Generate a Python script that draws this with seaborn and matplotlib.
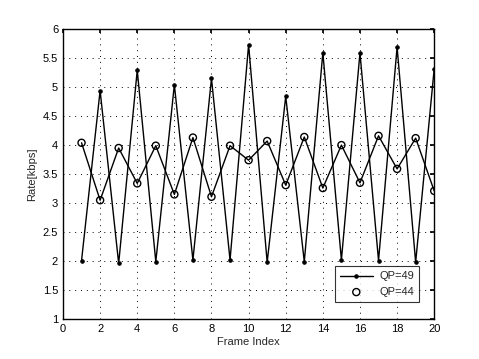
import numpy as np
import pandas as pd
import matplotlib
matplotlib.use("Agg")
import matplotlib.pyplot as plt
import seaborn as sns

# values
frames = list(range(1, 21))
rate_qp49 = [2.01, 4.94, 1.96, 5.29, 1.99, 5.04, 2.02, 5.15, 2.02, 5.73,
             1.98, 4.84, 1.99, 5.59, 2.02, 5.59, 2.01, 5.69, 1.98, 5.32]
rate_qp44 = [4.04, 3.05, 3.95, 3.34, 3.99, 3.15, 4.13, 3.11, 3.99, 3.74,
             4.07, 3.31, 4.14, 3.26, 4.00, 3.35, 4.16, 3.59, 4.12, 3.21]
x_ticks = list(range(0, 21, 2))
y_ticks = [1, 1.5, 2, 2.5, 3, 3.5, 4, 4.5, 5, 5.5, 6]

sns.set_theme(style="white")
plt.rcParams["font.family"] = ["Liberation Sans", "DejaVu Sans"]
plt.rcParams["xtick.direction"] = "in"
plt.rcParams["ytick.direction"] = "in"

df = pd.DataFrame({"frame": frames, "qp49": rate_qp49, "qp44": rate_qp44})

fig = plt.figure(figsize=(4.79, 3.59), dpi=100)
ax = fig.add_axes([0.1315, 0.111, 0.775, 0.808])

sns.lineplot(data=df, x="frame", y="qp49", ax=ax, color="black", lw=1.0,
             marker=".", markersize=5, mec="black", label="QP=49")
sns.lineplot(data=df, x="frame", y="qp44", ax=ax, color="black", lw=1.0,
             legend=False)
sns.scatterplot(data=df, x="frame", y="qp44", ax=ax, marker="o", s=26,
                facecolor="none", edgecolor="black", linewidth=1.0,
                label="QP=44", zorder=3)

ax.set_xlim(0, 20)
ax.set_ylim(1, 6)
ax.set_xticks(x_ticks)
ax.set_yticks(y_ticks)
ax.set_yticklabels([f"{v:g}" for v in y_ticks])
ax.tick_params(labelsize=8, length=3, color="black", labelcolor="black",
               top=True, right=True)
ax.grid(True, linestyle=(0, (1, 5)), color="black", lw=0.7)
for s in ax.spines.values():
    s.set_color("black")
    s.set_linewidth(1.0)
    s.set_visible(True)

ax.set_xlabel("Frame Index", fontsize=8, labelpad=2)
ax.set_ylabel("Rate[kbps]", fontsize=8, labelpad=4)

leg = ax.legend(loc="lower right", fontsize=8, frameon=True, fancybox=False,
                edgecolor="black", borderpad=0.45, handlelength=3.0,
                handletextpad=0.6, bbox_to_anchor=(0.975, 0.04))
leg.get_frame().set_linewidth(0.8)

fig.savefig("out.png", dpi=100)
